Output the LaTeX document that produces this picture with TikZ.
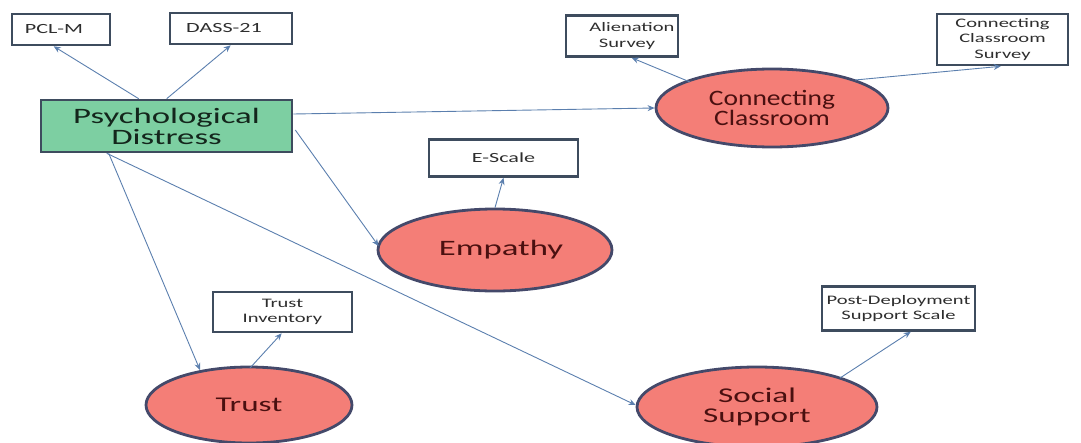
\documentclass[tikz,border=0pt]{standalone}
\usepackage{fontspec}
\setmainfont{Carlito}
\newfontfamily\widefont{Carlito}[FakeStretch=1.58]
\newfontfamily\midfont{Carlito}[FakeStretch=1.25]
\usetikzlibrary{shapes.geometric,calc,arrows.meta}
\definecolor{boxline}{HTML}{3E4C5E}
\definecolor{greenfill}{HTML}{7DCFA2}
\definecolor{salmon}{HTML}{F47E77}
\definecolor{ellline}{HTML}{44496A}
\definecolor{arrowc}{HTML}{5B7FAE}
\definecolor{redtext}{HTML}{4A1010}
\definecolor{darktext}{HTML}{2E2E2E}
\definecolor{greentext}{HTML}{14261C}
\tikzset{
  measure/.style={draw=boxline, line width=2.6pt, fill=white, text=darktext,
    font=\widefont\fontsize{13}{15.5}\selectfont, align=center, inner sep=0pt},
  construct/.style={ellipse, draw=ellline, line width=2.8pt, fill=salmon, text=redtext,
    font=\widefont\fontsize{21}{20}\selectfont, align=center, inner sep=0pt},
  link/.style={draw=arrowc, line width=0.9pt, -{Stealth[length=7pt,width=6pt]}}
}
\begin{document}
\begin{tikzpicture}[x=1pt,y=-1pt]
\useasboundingbox (0,0) rectangle (1081,442);
% outcome measures
\node[measure, minimum width=98pt, minimum height=31pt] (pclm) at (61,29.5) {\fontsize{14}{14}\selectfont PCL-M\hspace*{14pt}};
\node[measure, minimum width=122pt, minimum height=31pt] (dass) at (231,28.5) {\fontsize{14}{14}\selectfont DASS-21\hspace*{14pt}};
\node[measure, minimum width=112pt, minimum height=41pt] (alien) at (622,36) {\hspace*{20pt}Alienation\\\hspace*{10pt}Survey};
\node[measure, minimum width=131pt, minimum height=51pt] (ccsurv) at (1002.5,39.5) {Connecting\\Classroom\\Survey};
\node[measure, minimum width=149pt, minimum height=37pt] (escale) at (503.5,158) {\fontsize{14}{15}\selectfont E-Scale};
\node[measure, minimum width=139pt, minimum height=40pt] (trustinv) at (282.5,312) {Trust\\Inventory};
\node[measure, minimum width=153pt, minimum height=44pt] (pdss) at (898.5,308.5) {Post-Deployment\\Support Scale};
% main constructs
\node[draw=boxline, line width=2.6pt, fill=greenfill, text=greentext,
  minimum width=251pt, minimum height=52pt, align=center, inner sep=0pt,
  font=\widefont\fontsize{22}{21}\selectfont] (pd) at (166.5,126) {Psychological\\Distress};
\node[construct, minimum width=232pt, minimum height=78pt,
  font=\midfont\fontsize{22}{19}\selectfont] (cc) at (772,108) {Connecting\\Classroom};
\node[construct, minimum width=234pt, minimum height=82pt,
  font=\widefont\fontsize{22}{22}\selectfont] (emp) at (495,250) {\hspace*{12pt}Empathy};
\node[construct, minimum width=206pt, minimum height=76pt] (trust) at (249,405) {Trust};
\node[construct, minimum width=240pt, minimum height=80pt] (soc) at (757,407) {Social\\Support};
% paths from psychological distress
\draw[link] ($(pd.north west)+(99,0)$) -- ($(pclm.south west)+(43,0)$);
\draw[link] ($(pd.north west)+(127,0)$) -- ($(dass.south west)+(62,0)$);
\draw[link] ($(pd.east)+(0,-12)$) -- (cc.west);
\draw[link] ($(pd.east)+(2,4)$) -- ($(emp.west)+(2,-4)$);
\draw[link] ($(pd.south west)+(69,0)$) -- ($(trust.center)+(-49,-35)$);
\draw[link] ($(pd.south west)+(67,0)$) -- ($(soc.west)+(0,-2)$);
% paths to measures
\draw[link] ($(cc.center)+(-82,-26)$) -- ($(alien.south west)+(67,0)$);
\draw[link] ($(cc.center)+(83,-28)$) -- ($(ccsurv.south west)+(65,0)$);
\draw[link] (emp.north) -- (escale.south);
\draw[link] ($(trust.center)+(1,-37)$) -- ($(trustinv.south west)+(70,0)$);
\draw[link] ($(soc.center)+(83,-29)$) -- ($(pdss.south west)+(90,0)$);
\end{tikzpicture}
\end{document}
